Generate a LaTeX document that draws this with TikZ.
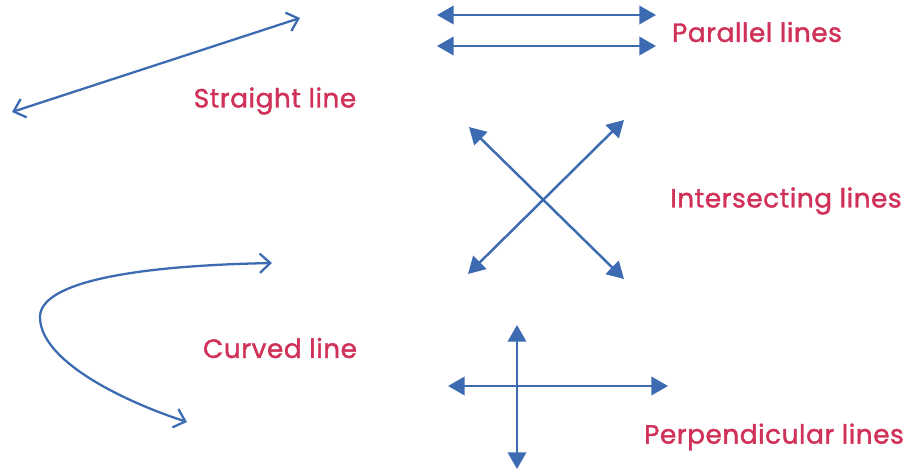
\documentclass[tikz,border=0pt]{standalone}
\usepackage{fontspec}
\setmainfont{Poppins}
\newfontfamily\labelfont[FakeBold=1.4, LetterSpace=2]{Poppins}
\usetikzlibrary{arrows.meta}
\definecolor{lineblue}{HTML}{3D6BB2}
\definecolor{labelred}{HTML}{D03158}
\tikzset{
  openline/.style={draw=lineblue, line width=1.3pt, {Straight Barb[length=6pt,width=11pt,line width=1.3pt]}-{Straight Barb[length=6pt,width=11pt,line width=1.3pt]}},
  solidline/.style={draw=lineblue, line width=1.4pt, {Triangle[length=9.5pt,width=10.5pt]}-{Triangle[length=9.5pt,width=10.5pt]}},
  label/.style={text=labelred, font=\labelfont\fontsize{15}{17}\selectfont, inner sep=0pt}
}
\begin{document}
\begin{tikzpicture}[x=0.02cm, y=-0.02cm]
\useasboundingbox (0,0) rectangle (906,474);
% straight line
\coordinate (sA) at (12,112);
\coordinate (sB) at (300,18);
\draw[openline] (sA)--(sB);
\node[label] (straight) at (275,101) {Straight line};
% parallel lines
\coordinate (pA) at (437,15);
\coordinate (pB) at (656,15);
\coordinate (pC) at (437,46);
\coordinate (pD) at (656,46);
\draw[solidline] (pA)--(pB);
\draw[solidline] (pC)--(pD);
\node[label] (parallel) at (757,32) {Parallel lines};
% intersecting lines
\coordinate (iA) at (469,127);
\coordinate (iB) at (624,279);
\coordinate (iC) at (468,274);
\coordinate (iD) at (624,120);
\draw[solidline] (iA)--(iB);
\draw[solidline] (iC)--(iD);
\node[label] (intersecting) at (786,201) {Intersecting lines};
% curved line
\coordinate (cA) at (272,263);
\coordinate (cB) at (187,422);
\draw[openline] (cA) .. controls (120,266) and (40,285) .. (40,317) .. controls (40,360) and (120,400) .. (cB);
\node[label] (curved) at (280,348) {Curved line};
% perpendicular lines
\coordinate (qA) at (517,325);
\coordinate (qB) at (517,469);
\coordinate (qC) at (448,386);
\coordinate (qD) at (668,386);
\draw[solidline] (qA)--(qB);
\draw[solidline] (qC)--(qD);
\node[label] (perpendicular) at (774,437) {Perpendicular lines};
\end{tikzpicture}
\end{document}
